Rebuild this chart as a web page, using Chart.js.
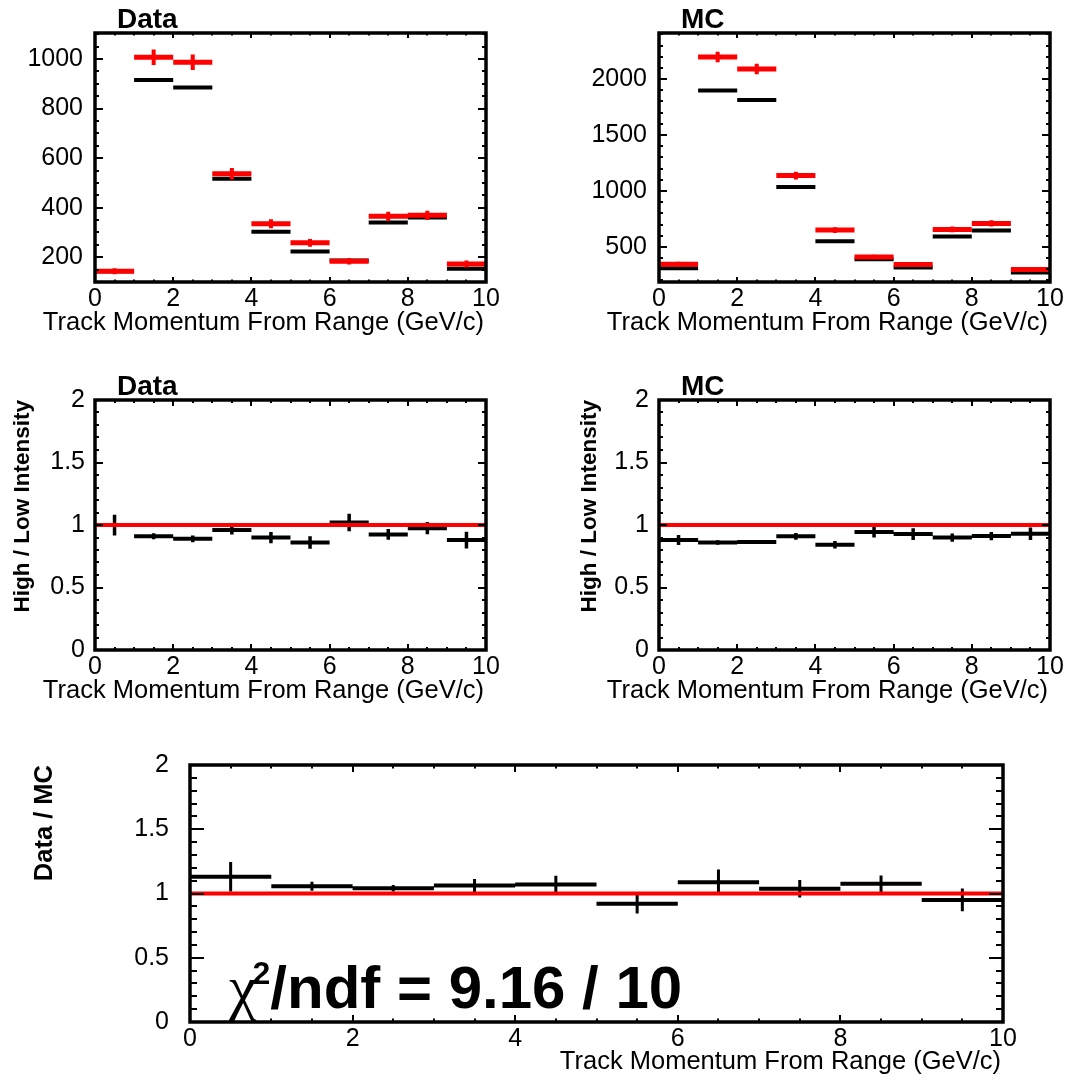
<!DOCTYPE html>
<html>
<head>
<meta charset="utf-8">
<script src="https://cdn.jsdelivr.net/npm/chart.js@4.4.1/dist/chart.umd.min.js"></script>
<style>
  html, body { margin: 0; padding: 0; background: #fff; }
  #page { position: relative; width: 1076px; height: 1083px; background: #fff; }
  canvas { position: absolute; }
</style>
</head>
<body>
<div id="page">
  <canvas id="dataTop" width="540" height="345" style="left:0;top:0"></canvas>
  <canvas id="mcTop" width="536" height="345" style="left:540px;top:0"></canvas>
  <canvas id="dataRat" width="540" height="370" style="left:0;top:345px"></canvas>
  <canvas id="mcRat" width="536" height="370" style="left:540px;top:345px"></canvas>
  <canvas id="dataMc" width="1076" height="368" style="left:0;top:715px"></canvas>
</div>
<script>
// bins in track momentum (GeV/c)
const binEdges = [0, 1, 2, 3, 4, 5, 6, 7, 8, 9, 10];
const xTitle = 'Track Momentum From Range (GeV/c)';

// Data: red = low intensity, black = high intensity (scaled)
const dataLow = [143, 1007, 987, 537, 335, 258, 184, 365, 369, 173];
const dataLowErr = [12, 31, 31, 23, 18, 16, 13, 19, 19, 14];
const dataHigh = [143, 915, 885, 517, 303, 223, 187, 340, 360, 153];

// MC
const mcLow = [345, 2197, 2090, 1137, 650, 410, 342, 656, 710, 297];
const mcLowErr = [21, 47, 46, 34, 26, 20, 18, 26, 27, 17];
const mcHigh = [309, 1898, 1812, 1036, 551, 390, 315, 593, 647, 270];

// High / Low ratios
const dataRatio = [1.0, 0.91, 0.89, 0.96, 0.90, 0.86, 1.02, 0.925, 0.975, 0.88];
const dataRatioErr = [0.083, 0.024, 0.027, 0.036, 0.045, 0.05, 0.07, 0.043, 0.049, 0.067];
const mcRatio = [0.88, 0.86, 0.865, 0.91, 0.843, 0.944, 0.928, 0.90, 0.912, 0.93];
const mcRatioErr = [0.04, 0.018, 0.015, 0.027, 0.03, 0.043, 0.047, 0.033, 0.033, 0.05];

// double ratio
const dataOverMc = [1.13, 1.057, 1.041, 1.062, 1.07, 0.92, 1.088, 1.037, 1.076, 0.95];
const dataOverMcErr = [0.115, 0.035, 0.026, 0.05, 0.068, 0.075, 0.098, 0.069, 0.065, 0.088];
const chi2 = 9.16, ndf = 10;

Chart.defaults.font.family = '"Liberation Sans", Arial, Helvetica, sans-serif';
Chart.defaults.color = '#000';

// horizontal bin lines, broken between bins
function hist(vals) {
  const pts = [];
  vals.forEach((v, i) => {
    pts.push({x: binEdges[i], y: v}, {x: binEdges[i + 1], y: v}, {x: binEdges[i + 1], y: null});
  });
  return pts;
}
// vertical error bars at bin centres
function errBars(vals, errs) {
  const pts = [];
  vals.forEach((v, i) => {
    const c = (binEdges[i] + binEdges[i + 1]) / 2;
    pts.push({x: c, y: v - errs[i]}, {x: c, y: v + errs[i]}, {x: c, y: null});
  });
  return pts;
}
function unityLine() {
  return [{x: binEdges[0], y: 1}, {x: binEdges[binEdges.length - 1], y: 1}];
}
function seg(data, color, width) {
  return {data, borderColor: color, borderWidth: width, pointRadius: 0, spanGaps: false,
          borderCapStyle: 'butt', tension: 0, fill: false};
}

// ROOT-like frame with inward ticks on all four sides, titles, chi2 label
const rootFrame = {
  id: 'rootFrame',
  afterDraw(chart, args, o) {
    const {ctx, chartArea: a, scales: {x, y}} = chart;
    ctx.save();
    ctx.strokeStyle = '#000';
    ctx.lineWidth = 2;
    ctx.beginPath();
    const near = (v, m) => Math.abs(v / m - Math.round(v / m)) < 1e-6;
    for (let i = Math.ceil(x.min / o.xMinor - 1e-9); i * o.xMinor <= x.max + 1e-9; i++) {
      const v = i * o.xMinor, px = Math.round(x.getPixelForValue(v));
      const len = near(v, o.xMajor) ? o.xLen : o.xLen / 2;
      ctx.moveTo(px, a.bottom); ctx.lineTo(px, a.bottom - len);
      ctx.moveTo(px, a.top); ctx.lineTo(px, a.top + len);
    }
    for (let i = Math.ceil(y.min / o.yMinor - 1e-9); i * o.yMinor <= y.max + 1e-9; i++) {
      const v = i * o.yMinor, py = Math.round(y.getPixelForValue(v));
      const len = near(v, o.yMajor) ? o.yLen : o.yLen / 2;
      ctx.moveTo(a.left, py); ctx.lineTo(a.left + len, py);
      ctx.moveTo(a.right, py); ctx.lineTo(a.right - len, py);
    }
    ctx.stroke();
    ctx.lineWidth = 3.5;
    ctx.strokeRect(a.left, a.top, a.right - a.left, a.bottom - a.top);
    ctx.fillStyle = '#000';

    // x-axis title, right aligned to the axis end (may run past the axis start)
    ctx.font = '25.5px "Liberation Sans", Arial, sans-serif';
    ctx.textAlign = 'right';
    ctx.textBaseline = 'middle';
    ctx.fillText(xTitle, a.right - 2, a.bottom + o.xTitleOff);

    ctx.textAlign = 'left';
    ctx.textBaseline = 'alphabetic';
    if (o.title) {
      ctx.font = 'bold 28px "Liberation Sans", Arial, sans-serif';
      ctx.fillText(o.title, a.left + 22, a.top - 5);
    }
    if (o.chi) {
      let px = a.left + 39;
      const base = a.bottom - 14;
      ctx.font = '62px "Liberation Serif", "DejaVu Serif", serif';
      ctx.fillText('\u03C7', px, base);
      px += ctx.measureText('\u03C7').width;
      ctx.font = 'bold 32px "Liberation Sans", Arial, sans-serif';
      ctx.fillText('2', px - 4, base - 24);
      px += ctx.measureText('2').width - 4;
      ctx.font = 'bold 60px "Liberation Sans", Arial, sans-serif';
      ctx.fillText('/ndf = ' + chi2 + ' / ' + ndf, px, base);
    }
    ctx.restore();
  }
};

function panel(id, p) {
  return new Chart(document.getElementById(id), {
    type: 'line',
    data: {datasets: p.datasets},
    options: {
      responsive: false,
      animation: false,
      devicePixelRatio: 1,
      events: [],
      layout: {padding: p.pad},
      plugins: {legend: {display: false}, tooltip: {enabled: false}, rootFrame: p.frame},
      scales: {
        x: {
          type: 'linear', min: 0, max: 10,
          grid: {display: false, drawTicks: false}, border: {display: false},
          ticks: {stepSize: 2, padding: 2, autoSkip: false, maxRotation: 0, font: {size: 25},
                  callback: v => String(v)},
          afterFit: s => { s.height = p.xh; }
        },
        y: {
          type: 'linear', min: p.ymin, max: p.ymax,
          grid: {display: false, drawTicks: false}, border: {display: false},
          ticks: {padding: p.yPad, autoSkip: false, font: {size: 25},
                  callback: v => String(v)},
          afterBuildTicks: s => {
            const t = [];
            for (let i = Math.ceil(p.ymin / p.yStep - 1e-9); i * p.yStep <= p.ymax + 1e-9; i++) {
              t.push({value: +(i * p.yStep).toFixed(6)});
            }
            s.ticks = t;
          },
          title: p.yTitle ? {display: true, text: p.yTitle, align: 'end',
                             font: {size: p.yTitleSize, weight: 'bold'},
                             padding: {top: p.yTitlePad, bottom: 0}} : {display: false},
          afterFit: s => { s.width = p.yw; }
        }
      }
    },
    plugins: [rootFrame]
  });
}

panel('dataTop', {
  datasets: [
    seg(hist(dataLow), '#ff0000', 5),
    seg(errBars(dataLow, dataLowErr), '#ff0000', 4),
    seg(hist(dataHigh), '#000000', 4)
  ],
  pad: {top: 33, right: 54, left: 0, bottom: 0}, yw: 95, xh: 63,
  ymin: 100, ymax: 1105, yStep: 200, yPad: 12,
  frame: {xMajor: 2, xMinor: 0.5, xLen: 5, yMajor: 200, yMinor: 50, yLen: 8, title: 'Data', xTitleOff: 41}
});

panel('mcTop', {
  datasets: [
    seg(hist(mcLow), '#ff0000', 5),
    seg(errBars(mcLow, mcLowErr), '#ff0000', 4),
    seg(hist(mcHigh), '#000000', 4)
  ],
  pad: {top: 33, right: 26, left: 0, bottom: 0}, yw: 119, xh: 63,
  ymin: 186, ymax: 2412, yStep: 500, yPad: 12,
  frame: {xMajor: 2, xMinor: 0.5, xLen: 5, yMajor: 500, yMinor: 100, yLen: 8, title: 'MC', xTitleOff: 41}
});

panel('dataRat', {
  datasets: [
    seg(unityLine(), '#ff0000', 4),
    seg(hist(dataRatio), '#000000', 4),
    seg(errBars(dataRatio, dataRatioErr), '#000000', 3.5)
  ],
  pad: {top: 55, right: 54, left: 0, bottom: 0}, yw: 95, xh: 65,
  ymin: 0, ymax: 2, yStep: 0.5, yPad: 10,
  yTitle: 'High / Low Intensity', yTitleSize: 22.5, yTitlePad: 9.5,
  frame: {xMajor: 2, xMinor: 0.5, xLen: 6, yMajor: 0.5, yMinor: 0.1, yLen: 8, title: 'Data', xTitleOff: 41}
});

panel('mcRat', {
  datasets: [
    seg(unityLine(), '#ff0000', 4),
    seg(hist(mcRatio), '#000000', 4),
    seg(errBars(mcRatio, mcRatioErr), '#000000', 3.5)
  ],
  pad: {top: 55, right: 26, left: 0, bottom: 0}, yw: 119, xh: 65,
  ymin: 0, ymax: 2, yStep: 0.5, yPad: 10,
  yTitle: 'High / Low Intensity', yTitleSize: 22.5, yTitlePad: 36.5,
  frame: {xMajor: 2, xMinor: 0.5, xLen: 6, yMajor: 0.5, yMinor: 0.1, yLen: 8, title: 'MC', xTitleOff: 41}
});

panel('dataMc', {
  datasets: [
    seg(unityLine(), '#ff0000', 4),
    seg(hist(dataOverMc), '#000000', 4),
    seg(errBars(dataOverMc, dataOverMcErr), '#000000', 3)
  ],
  pad: {top: 50, right: 73, left: 0, bottom: 0}, yw: 190, xh: 61,
  ymin: 0, ymax: 2, yStep: 0.5, yPad: 21,
  yTitle: 'Data / MC', yTitleSize: 25.5, yTitlePad: 30,
  frame: {xMajor: 2, xMinor: 0.5, xLen: 7, yMajor: 0.5, yMinor: 0.1, yLen: 14, chi: true, xTitleOff: 40}
});
</script>
</body>
</html>
